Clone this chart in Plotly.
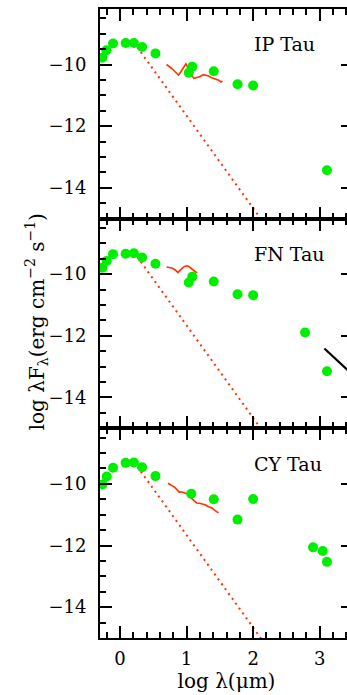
import plotly.graph_objects as go
from plotly.subplots import make_subplots

# --- photometry (log wavelength in micron, log lambda*F_lambda in erg cm^-2 s^-1) ---
ip_logl = [-0.264, -0.204, -0.104, 0.085, 0.209, 0.333, 0.533, 1.034, 1.085, 1.408, 1.766, 2.0, 3.109]
ip_logf = [-9.78, -9.54, -9.32, -9.30, -9.30, -9.43, -9.64, -10.27, -10.07, -10.22, -10.64, -10.68, -13.43]

fn_logl = [-0.264, -0.199, -0.104, 0.085, 0.209, 0.333, 0.533, 1.034, 1.085, 1.408, 1.766, 2.0, 2.78, 3.109]
fn_logf = [-9.79, -9.57, -9.35, -9.34, -9.32, -9.46, -9.66, -10.27, -10.08, -10.24, -10.65, -10.68, -11.89, -13.15]

cy_logl = [-0.264, -0.199, -0.104, 0.085, 0.209, 0.333, 0.533, 1.07, 1.408, 1.766, 2.0, 2.90, 3.045, 3.109]
cy_logf = [-10.02, -9.76, -9.48, -9.32, -9.31, -9.46, -9.75, -10.32, -10.50, -11.16, -10.49, -12.06, -12.18, -12.53]

# --- mid-infrared spectra ---
ip_spec_l = [0.70, 0.74, 0.78, 0.82, 0.86, 0.88, 0.91, 0.94, 0.97, 0.99, 1.02, 1.05, 1.08,
             1.11, 1.14, 1.17, 1.21, 1.25, 1.29, 1.33, 1.37, 1.41, 1.45, 1.49, 1.52, 1.54]
ip_spec_f = [-10.00, -10.06, -10.13, -10.22, -10.31, -10.34, -10.25, -10.13, -10.02, -9.98, -10.10,
             -10.24, -10.36, -10.45, -10.44, -10.41, -10.38, -10.33, -10.35, -10.37, -10.42, -10.45,
             -10.48, -10.52, -10.57, -10.53]

fn_spec_l = [0.70, 0.74, 0.78, 0.81, 0.84, 0.87, 0.89, 0.92, 0.95, 0.98, 1.01, 1.04, 1.07, 1.10, 1.13, 1.16]
fn_spec_f = [-9.77, -9.79, -9.80, -9.84, -9.88, -9.95, -9.90, -9.86, -9.78, -9.74, -9.73, -9.76,
             -9.82, -9.88, -9.92, -9.95]

cy_spec_l = [0.72, 0.75, 0.78, 0.82, 0.855, 0.89, 0.92, 0.955, 1.005, 1.055, 1.10, 1.15, 1.19,
             1.23, 1.28, 1.33, 1.38, 1.43, 1.46, 1.48]
cy_spec_f = [-9.98, -10.01, -10.06, -10.11, -10.19, -10.27, -10.26, -10.29, -10.32, -10.43, -10.53,
             -10.62, -10.63, -10.65, -10.68, -10.74, -10.78, -10.87, -10.90, -10.94]

# --- stellar photosphere (Rayleigh-Jeans tail) ---
phot_l = [0.26, 2.12]
phot_f = [-9.44, -15.02]

# --- millimetre spectral slope for FN Tau ---
mm_l = [3.07, 3.5]
mm_f = [-12.41, -13.27]

names = ["IP Tau", "FN Tau", "CY Tau"]
phot_sets = [(ip_logl, ip_logf), (fn_logl, fn_logf), (cy_logl, cy_logf)]
spec_sets = [(ip_spec_l, ip_spec_f), (fn_spec_l, fn_spec_f), (cy_spec_l, cy_spec_f)]

GREEN = "#00ee00"
RED = "#ff3300"
FONT = "DejaVu Serif"

fig = make_subplots(rows=3, cols=1, shared_xaxes=True, vertical_spacing=0)

for i in range(3):
    row = i + 1
    fig.add_trace(go.Scatter(x=phot_l, y=phot_f, mode="lines",
                             line=dict(color=RED, width=2, dash="2px,4px")), row=row, col=1)
    sl, sf = spec_sets[i]
    fig.add_trace(go.Scatter(x=sl, y=sf, mode="lines",
                             line=dict(color=RED, width=1.6)), row=row, col=1)
    if i == 1:
        fig.add_trace(go.Scatter(x=mm_l, y=mm_f, mode="lines",
                                 line=dict(color="black", width=2.2)), row=row, col=1)
    pl, pf = phot_sets[i]
    fig.add_trace(go.Scatter(x=pl, y=pf, mode="markers",
                             marker=dict(color=GREEN, size=10, line=dict(width=0))), row=row, col=1)
    sfx = "" if i == 0 else str(row)
    fig.add_annotation(x=1.98, y=-9.35, xref="x" + sfx, yref="y" + sfx, text=names[i],
                       showarrow=False, xanchor="left", yanchor="middle",
                       font=dict(family=FONT, size=19, color="black"))

axis_common = dict(showline=True, linecolor="black", linewidth=2, mirror="ticks",
                   ticks="inside", tickcolor="black", tickwidth=1.5, ticklen=12,
                   showgrid=False, zeroline=False,
                   tickfont=dict(family=FONT, size=18, color="black"))

for i in range(3):
    sfx = "" if i == 0 else str(i + 1)
    fig.update_layout(**{
        "xaxis" + sfx: dict(axis_common, range=[-0.3, 3.5], dtick=1, tick0=0,
                            minor=dict(dtick=0.2, tick0=0, ticks="inside", ticklen=6,
                                       tickcolor="black", tickwidth=1.5)),
        "yaxis" + sfx: dict(axis_common, range=[-15, -8.2], dtick=2, tick0=0,
                            ticklabelstandoff=8,
                            minor=dict(dtick=0.5, tick0=0, ticks="inside", ticklen=6,
                                       tickcolor="black", tickwidth=1.5)),
    })

fig.update_layout(xaxis3=dict(showticklabels=True, ticklabelstandoff=3,
                              title=dict(text="log λ(μm)", standoff=4,
                                         font=dict(family=FONT, size=20, color="black"))))

fig.add_annotation(x=-0.25, y=0.503, xref="paper", yref="paper", textangle=-90,
                   text="log λF<sub>λ</sub>(erg cm<sup>−2</sup> s<sup>−1</sup>)",
                   showarrow=False, xanchor="center", yanchor="middle",
                   font=dict(family=FONT, size=20, color="black"))

fig.update_layout(width=360, height=695, showlegend=False,
                  margin=dict(l=100, r=5, t=9, b=57),
                  paper_bgcolor="white", plot_bgcolor="white")

fig.write_html("out.html", post_script="document.body.style.overflow='hidden';")
